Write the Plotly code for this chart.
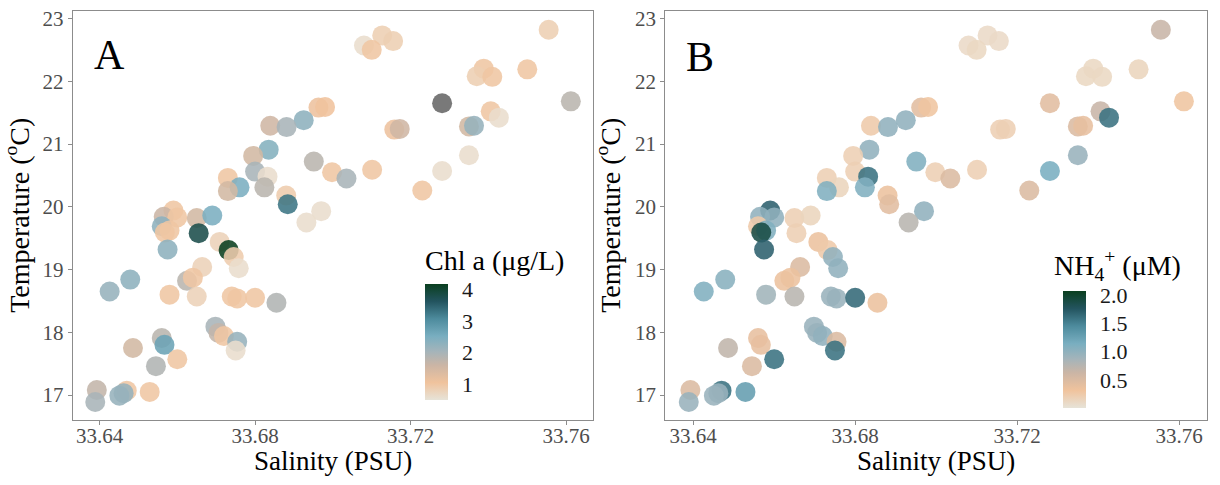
import plotly.graph_objects as go
import numpy as np

# Station measurements: salinity (PSU), temperature (°C), chlorophyll a (µg/L), ammonium (µM)
salinity = [
    33.7080, 33.7127, 33.7100, 33.7155, 33.7555, 33.7388, 33.7370, 33.7410, 33.7500,
    33.7281, 33.7612, 33.6963, 33.6980, 33.6925, 33.6839, 33.6881, 33.7158, 33.7172,
    33.7350, 33.7363, 33.7406, 33.7427, 33.7350, 33.7281, 33.7230, 33.7101, 33.6951,
    33.6998, 33.7035, 33.6970, 33.6932, 33.6835, 33.6795, 33.6800, 33.6832, 33.6824,
    33.6730, 33.6760, 33.6730, 33.6880, 33.6884, 33.6590, 33.6565, 33.6600, 33.6650,
    33.6690, 33.6560, 33.6580, 33.6568, 33.6655, 33.6575, 33.6709, 33.6732, 33.6745,
    33.6758, 33.6664, 33.6625, 33.6640, 33.6479, 33.6426, 33.6580, 33.6650, 33.6740,
    33.6754, 33.6800, 33.6855, 33.6698, 33.6706, 33.6720, 33.6754, 33.6750, 33.6560,
    33.6567, 33.6486, 33.6600, 33.6545, 33.6393, 33.6389, 33.6470, 33.6451, 33.6462,
    33.6529,
]
temperature = [
    22.57, 22.73, 22.50, 22.64, 22.82, 22.20, 22.08, 22.07, 22.19,
    21.65, 21.68, 21.58, 21.59, 21.38, 21.29, 21.27, 21.23, 21.24,
    21.28, 21.29, 21.52, 21.42, 20.82, 20.57, 20.26, 20.59, 20.72,
    20.55, 20.45, 19.93, 19.75, 20.91, 20.81, 20.56, 20.48, 20.31,
    20.46, 20.31, 20.25, 20.18, 20.04, 19.94, 19.84, 19.83, 19.82,
    19.86, 19.69, 19.62, 19.59, 19.58, 19.32, 19.44, 19.31, 19.20,
    19.02, 19.04, 18.82, 18.87, 18.84, 18.65, 18.60, 18.57, 18.57,
    18.54, 18.55, 18.47, 18.09, 17.99, 17.94, 17.85, 17.71, 17.91,
    17.80, 17.75, 17.57, 17.46, 17.08, 16.89, 17.07, 16.99, 17.03,
    17.05,
]
chl_a = [
    0.60, 0.85, 1.00, 0.85, 0.85, 1.00, 0.85, 1.00, 1.00,
    np.nan, 1.80, 1.10, 1.05, 2.30, 1.55, 2.00, 1.10, 1.55,
    1.50, 2.20, 1.00, 0.60, 0.60, 0.60, 1.00, 1.00, 1.80,
    1.00, 2.00, 0.60, 0.60, 2.40, 1.50, 2.00, 0.60, 1.80,
    1.00, 2.50, 1.50, 0.90, 3.30, 1.00, 1.60, 1.00, 1.50,
    2.50, 2.30, 1.00, 1.00, 3.80, 2.30, 0.80, 4.20, 0.90,
    0.60, 0.80, 1.80, 1.00, 2.30, 2.20, 1.00, 0.80, 1.00,
    1.00, 1.00, 1.90, 2.00, 1.70, 1.00, 2.20, 0.60, 1.80,
    2.70, 1.50, 1.00, 1.90, 1.70, 2.00, 1.00, 2.20, 2.20,
    1.00,
]
nh4 = [
    0.10, 0.10, 0.12, 0.10, 0.65, 0.12, 0.12, 0.12, 0.15,
    0.45, 0.30, 0.45, 0.30, 1.00, 0.25, 1.00, 0.20, 0.20,
    0.50, 0.40, 0.65, 1.60, 0.95, 1.15, 0.50, 0.20, 1.10,
    0.20, 0.50, 1.00, 0.75, 1.00, 0.20, 0.20, 1.60, 1.10,
    0.20, 0.15, 1.10, 0.35, 0.45, 1.70, 1.00, 1.00, 0.20,
    0.15, 0.25, 1.10, 1.90, 0.20, 1.70, 0.35, 0.25, 1.00,
    1.00, 0.50, 0.35, 0.35, 1.05, 1.10, 0.90, 0.75, 0.95,
    0.95, 1.65, 0.35, 0.95, 0.95, 1.00, 0.50, 1.60, 0.40,
    0.40, 0.70, 1.60, 0.50, 0.50, 0.95, 1.60, 0.95, 0.95,
    1.30,
]

x_ticks = [33.64, 33.68, 33.72, 33.76]
y_ticks = [17, 18, 19, 20, 21, 22, 23]
chl_ticks = [1, 2, 3, 4]
nh4_ticks = [0.5, 1.0, 1.5, 2.0]

palette = [
    [0.00, "#E7E3D8"],
    [0.15, "#F0C39D"],
    [0.30, "#CBB5A5"],
    [0.42, "#A4B4BA"],
    [0.55, "#79AEC0"],
    [0.70, "#4D8B9D"],
    [0.85, "#23545F"],
    [1.00, "#0A3F1F"],
]

W, H = 1220, 485
SERIF = "Liberation Serif, Times New Roman, serif"


def px_x(p):
    return p / W


def px_y(p):
    return 1 - p / H


sal = np.array(salinity)
tmp = np.array(temperature)
chl = np.array(chl_a)
amm = np.array(nh4)
has_chl = ~np.isnan(chl)

fig = go.Figure()

# Panel A: points without a chlorophyll value in grey
fig.add_trace(go.Scatter(
    x=sal[~has_chl], y=tmp[~has_chl], mode="markers",
    marker=dict(size=20, color="#666666", opacity=0.88, line=dict(width=0)),
    xaxis="x", yaxis="y", showlegend=False, hoverinfo="skip",
))
fig.add_trace(go.Scatter(
    x=sal[has_chl], y=tmp[has_chl], mode="markers",
    marker=dict(
        size=20, color=chl[has_chl], colorscale=palette, cmin=0.5, cmax=4.18,
        opacity=0.88, line=dict(width=0),
        colorbar=dict(
            x=px_x(425), xanchor="left", xpad=0, y=px_y(399), yanchor="bottom", ypad=0,
            len=116, lenmode="pixels", thickness=23, outlinewidth=0,
            tickvals=chl_ticks, ticks="outside", ticklen=10, tickcolor="rgba(0,0,0,0)",
            tickfont=dict(family=SERIF, size=22, color="#1A1A1A"),
        ),
    ),
    xaxis="x", yaxis="y", showlegend=False,
))

# Panel B: ammonium
fig.add_trace(go.Scatter(
    x=sal, y=tmp, mode="markers",
    marker=dict(
        size=20, color=amm, colorscale=palette, cmin=0.01, cmax=2.08,
        opacity=0.88, line=dict(width=0),
        colorbar=dict(
            x=px_x(1063), xanchor="left", xpad=0, y=px_y(407), yanchor="bottom", ypad=0,
            len=117, lenmode="pixels", thickness=23, outlinewidth=0,
            tickvals=nh4_ticks, tickformat=".1f", ticks="outside", ticklen=10,
            tickcolor="rgba(0,0,0,0)",
            tickfont=dict(family=SERIF, size=22, color="#1A1A1A"),
        ),
    ),
    xaxis="x2", yaxis="y2", showlegend=False,
))

axis_common = dict(
    showgrid=False, zeroline=False, showline=True, mirror=True,
    linecolor="#8C8C8C", linewidth=1.2, ticks="outside", ticklen=4, tickcolor="#8C8C8C",
    tickfont=dict(family=SERIF, size=21, color="#4D4D4D"),
)
x_common = dict(axis_common, range=[33.6331, 33.7669], tickvals=x_ticks, tickformat=".2f",
                ticklabelstandoff=-7)
y_common = dict(axis_common, range=[16.61, 23.12], tickvals=y_ticks, domain=[px_y(419), px_y(7)],
                title=dict(text="Temperature (<sup>o</sup>C)", font=dict(family=SERIF, size=28, color="#000"), standoff=6))

A_DOM = [px_x(72.7), px_x(593)]
B_DOM = [px_x(665.3), px_x(1207)]

label_font = dict(family=SERIF, size=28, color="#000")
fig.update_layout(
    width=W, height=H,
    margin=dict(l=0, r=0, t=0, b=0),
    paper_bgcolor="white", plot_bgcolor="white",
    font=dict(family=SERIF, color="#000"),
    xaxis=dict(x_common, domain=A_DOM, anchor="y"),
    yaxis=dict(y_common, anchor="x"),
    xaxis2=dict(x_common, domain=B_DOM, anchor="y2"),
    yaxis2=dict(y_common, anchor="x2"),
    annotations=[
        dict(text="Salinity (PSU)", x=sum(A_DOM) / 2, y=px_y(461), xref="paper", yref="paper",
             xanchor="center", yanchor="middle", showarrow=False,
             font=dict(family=SERIF, size=27, color="#000")),
        dict(text="Salinity (PSU)", x=sum(B_DOM) / 2, y=px_y(461), xref="paper", yref="paper",
             xanchor="center", yanchor="middle", showarrow=False,
             font=dict(family=SERIF, size=27, color="#000")),
        dict(text="A", x=px_x(109), y=px_y(51), xref="paper", yref="paper",
             xanchor="center", yanchor="middle",
             showarrow=False, font=dict(family=SERIF, size=42, color="#000")),
        dict(text="B", x=px_x(700), y=px_y(53), xref="paper", yref="paper",
             xanchor="center", yanchor="middle",
             showarrow=False, font=dict(family=SERIF, size=42, color="#000")),
        dict(text="Chl a (μg/L)", x=px_x(423), y=px_y(259), xref="paper", yref="paper",
             xanchor="left", yanchor="middle", showarrow=False, font=label_font),
        dict(text="NH<sub>4</sub><sup>+</sup> (μM)", x=px_x(1052), y=px_y(264), xref="paper", yref="paper",
             xanchor="left", yanchor="middle", showarrow=False, font=label_font),
    ],
)

fig.write_html("out.html")
